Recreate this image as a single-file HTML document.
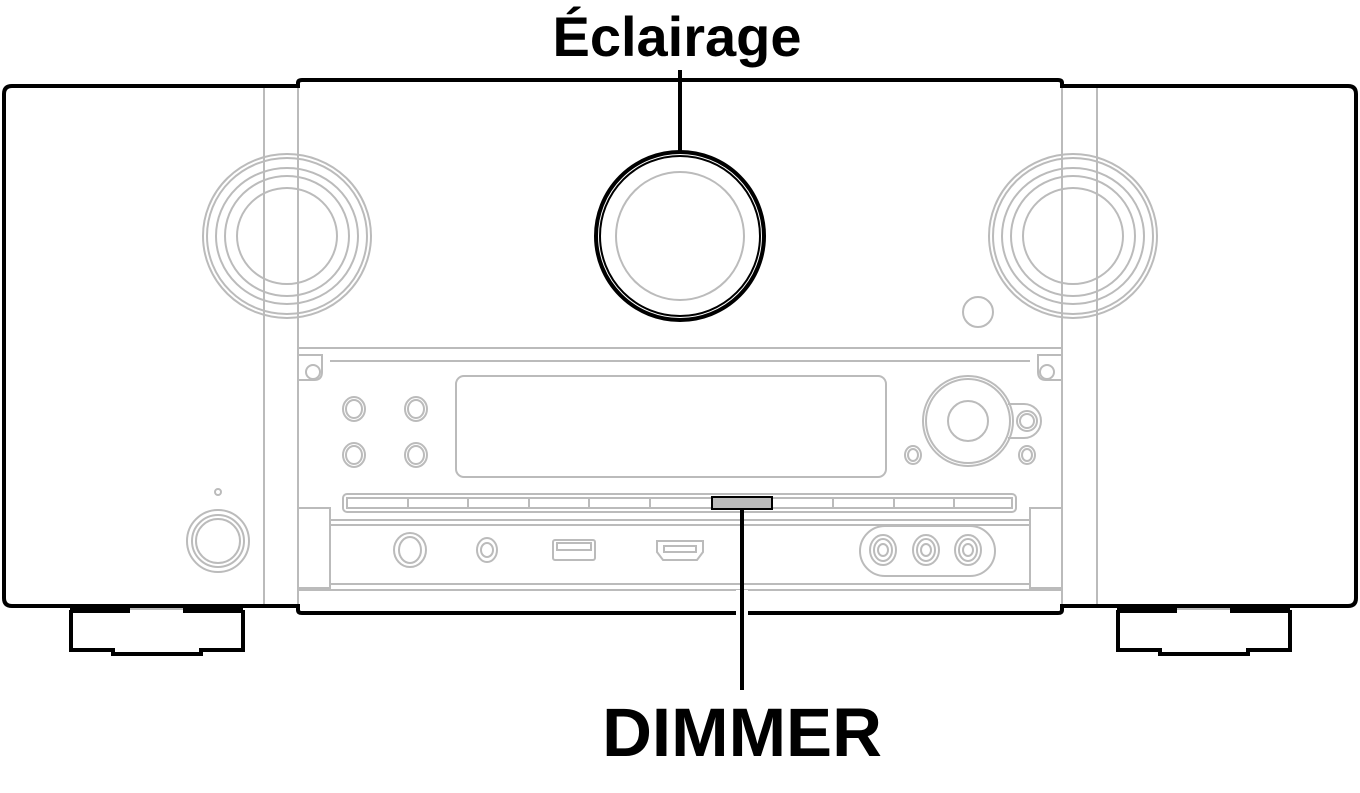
<!DOCTYPE html>
<html><head><style>html,body{margin:0;padding:0;background:#fff}svg{display:block}</style></head>
<body>
<svg width="1360" height="793" viewBox="0 0 1360 793" xmlns="http://www.w3.org/2000/svg">
<g fill="none" stroke="#bbb" stroke-width="2">
<line x1="264" y1="88" x2="264" y2="604"/><line x1="298" y1="88" x2="298" y2="604"/>
<line x1="1062" y1="88" x2="1062" y2="604"/><line x1="1097" y1="88" x2="1097" y2="604"/>
<ellipse cx="287" cy="236" rx="84" ry="82"/><ellipse cx="287" cy="236" rx="80" ry="78"/><ellipse cx="287" cy="236" rx="71" ry="68"/><ellipse cx="287" cy="236" rx="62" ry="60"/><ellipse cx="287" cy="236" rx="50" ry="48"/>
<ellipse cx="1073" cy="236" rx="84" ry="82"/><ellipse cx="1073" cy="236" rx="80" ry="78"/><ellipse cx="1073" cy="236" rx="71" ry="68"/><ellipse cx="1073" cy="236" rx="62" ry="60"/><ellipse cx="1073" cy="236" rx="50" ry="48"/>
<circle cx="680" cy="236" r="64"/>
<circle cx="978" cy="312" r="15"/>
<circle cx="218" cy="492" r="3"/>
<circle cx="218" cy="541" r="31"/><circle cx="218" cy="541" r="26"/><circle cx="218" cy="541" r="22"/>
<line x1="298" y1="348" x2="1062" y2="348"/><line x1="330" y1="361" x2="1030" y2="361"/>
<path d="M298 355 H322 V372 Q322 380 314 380 H298"/><circle cx="313" cy="372" r="7"/>
<path d="M1062 355 H1038 V372 Q1038 380 1046 380 H1062"/><circle cx="1047" cy="372" r="7"/>
<ellipse cx="354" cy="409" rx="11" ry="12"/><ellipse cx="354" cy="409" rx="8" ry="9"/>
<ellipse cx="416" cy="409" rx="11" ry="12"/><ellipse cx="416" cy="409" rx="8" ry="9"/>
<ellipse cx="354" cy="455" rx="11" ry="12"/><ellipse cx="354" cy="455" rx="8" ry="9"/>
<ellipse cx="416" cy="455" rx="11" ry="12"/><ellipse cx="416" cy="455" rx="8" ry="9"/>
<rect x="456" y="376" width="430" height="101" rx="8"/>
<ellipse cx="968" cy="421" rx="45" ry="45"/><ellipse cx="968" cy="421" rx="42" ry="42"/><circle cx="968" cy="421" r="20"/>
<path d="M1008 404 H1024 A17 17 0 0 1 1024 438 H1008"/><circle cx="1027" cy="421" r="10"/><circle cx="1027" cy="421" r="7"/>
<ellipse cx="913" cy="455" rx="8" ry="9"/><ellipse cx="913" cy="455" rx="5" ry="6"/>
<ellipse cx="1027" cy="455" rx="8" ry="9"/><ellipse cx="1027" cy="455" rx="5" ry="6"/>
<rect x="343" y="494" width="673" height="18" rx="4"/>
<rect x="347" y="498" width="665" height="10"/>
<line x1="408" y1="498" x2="408" y2="508"/><line x1="468" y1="498" x2="468" y2="508"/><line x1="529" y1="498" x2="529" y2="508"/><line x1="589" y1="498" x2="589" y2="508"/><line x1="650" y1="498" x2="650" y2="508"/><line x1="833" y1="498" x2="833" y2="508"/><line x1="894" y1="498" x2="894" y2="508"/><line x1="954" y1="498" x2="954" y2="508"/>
<path d="M298 508 H330 V588 H298"/><path d="M1062 508 H1030 V588 H1062"/>
<line x1="330" y1="520" x2="1030" y2="520"/><line x1="330" y1="525" x2="1030" y2="525"/>
<line x1="330" y1="584" x2="1030" y2="584"/><line x1="298" y1="590" x2="1062" y2="590"/>
<ellipse cx="410" cy="550" rx="16" ry="17"/><ellipse cx="410" cy="550" rx="11" ry="13"/>
<ellipse cx="487" cy="550" rx="10" ry="12"/><ellipse cx="487" cy="550" rx="6" ry="7"/>
<rect x="553" y="540" width="42" height="20" rx="2"/><rect x="557" y="543" width="34" height="7"/>
<path d="M657 541 H703 V552 L697 560 H663 L657 552 Z"/><rect x="664" y="546" width="32" height="6"/>
<rect x="860" y="526" width="135" height="50" rx="25"/>
<ellipse cx="883" cy="550" rx="13" ry="15"/><ellipse cx="883" cy="550" rx="9" ry="11"/><ellipse cx="883" cy="550" rx="5" ry="6"/>
<ellipse cx="926" cy="550" rx="13" ry="15"/><ellipse cx="926" cy="550" rx="9" ry="11"/><ellipse cx="926" cy="550" rx="5" ry="6"/>
<ellipse cx="968" cy="550" rx="13" ry="15"/><ellipse cx="968" cy="550" rx="9" ry="11"/><ellipse cx="968" cy="550" rx="5" ry="6"/>
<line x1="130" y1="609" x2="183" y2="609"/><line x1="1177" y1="609" x2="1230" y2="609"/>
</g>
<rect x="712" y="497" width="60" height="12" fill="#bbb" stroke="#000" stroke-width="2"/>
<g fill="none" stroke="#000" stroke-width="4">
<path d="M298 86 H12 Q4 86 4 94 V598 Q4 606 12 606 H298"/>
<path d="M1062 86 H1348 Q1356 86 1356 94 V598 Q1356 606 1348 606 H1062"/>
<path d="M298 88 V83 Q298 80 302 80 H1058 Q1062 80 1062 83 V88"/>
<path d="M298 604 V610 Q298 613 302 613 H1058 Q1062 613 1062 610 V604"/>
<circle cx="680" cy="236" r="84"/><circle cx="680" cy="236" r="80" stroke-width="2"/>
<line x1="680" y1="70" x2="680" y2="152"/>
<line x1="742" y1="509" x2="742" y2="690"/>
<path d="M71 610 V650 H113 V654 H201 V650 H243 V610"/>
<path d="M1118 610 V650 H1160 V654 H1248 V650 H1290 V610"/>
</g>
<g fill="#000">
<rect x="70" y="605" width="60" height="8"/><rect x="183" y="605" width="60" height="8"/>
<rect x="1117" y="605" width="60" height="8"/><rect x="1230" y="605" width="60" height="8"/>
</g>
<rect x="736" y="590" width="12" height="26" fill="#fff"/>
<line x1="742" y1="585" x2="742" y2="690" stroke="#000" stroke-width="4"/>
<text x="677" y="56" text-anchor="middle" font-family="Liberation Sans, sans-serif" font-weight="bold" font-size="56">Éclairage</text>
<text x="742" y="756" text-anchor="middle" font-family="Liberation Sans, sans-serif" font-weight="bold" font-size="69">DIMMER</text>
</svg>
</body></html>
